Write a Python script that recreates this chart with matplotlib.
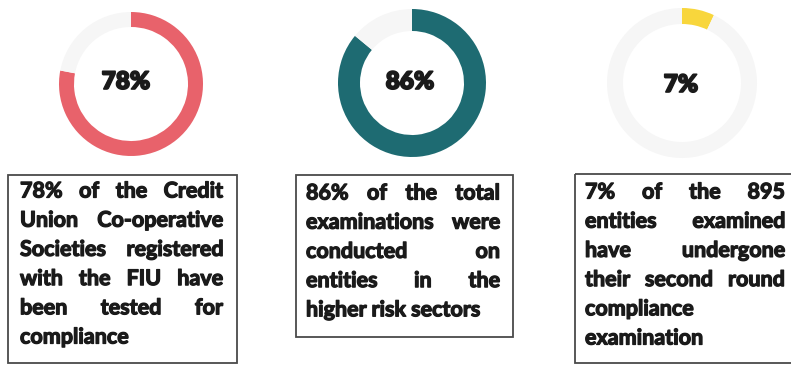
import matplotlib.pyplot as plt
import matplotlib.patheffects as pe
from matplotlib.patches import Rectangle

# shares shown in the three rings
percentages = [78, 86, 7]
ring_colors = ['#E8626B', '#1E6B72', '#F8D63C']
track_color = '#F6F6F6'

# caption text, one entry per printed line
captions = [
    ["78% of the Credit", "Union Co-operative", "Societies registered",
     "with the FIU have", "been tested for", "compliance"],
    ["86% of the total", "examinations were", "conducted on",
     "entities in the", "higher risk sectors"],
    ["7% of the 895", "entities examined", "have undergone",
     "their second round", "compliance", "examination"],
]

W, H = 791, 366
fig = plt.figure(figsize=(W / 100, H / 100), dpi=100)

# full-figure axes in pixel units for the caption boxes
canvas = fig.add_axes([0, 0, 1, 1])
canvas.set_xlim(0, W)
canvas.set_ylim(H, 0)
canvas.axis('off')

ink = '#1A1A1A'
thick = [pe.withStroke(linewidth=0.9, foreground=ink)]

# ring geometry: centre x, centre y, outer radius, ring width (px)
rings = [(131, 84, 72, 15), (412, 83, 74, 22), (682, 83, 75, 16)]
label_pos = [(126, 82), (410, 82), (681, 85)]

for pct, color, (cx, cy, r, w), (lx, ly) in zip(percentages, ring_colors, rings, label_pos):
    ax = fig.add_axes([(cx - r) / W, (H - cy - r) / H, 2 * r / W, 2 * r / H])
    ax.pie([pct, 100 - pct], colors=[color, track_color], startangle=90,
           counterclock=False, radius=1,
           wedgeprops=dict(width=w / r, linewidth=0))
    ax.set_xlim(-1, 1)
    ax.set_ylim(-1, 1)
    ax.axis('off')
    canvas.text(lx, ly, f"{pct}%", ha='center', va='center', fontsize=17.5,
                fontweight='heavy', family='Lato', color=ink, zorder=5,
                path_effects=[pe.withStroke(linewidth=1.2, foreground=ink)])

# caption boxes: x0, y0, x1, y1, text left, text right, first line y
boxes = [
    (8, 175, 237, 363, 20, 223, 191),
    (296, 175, 513, 337, 306, 500, 193),
    (575, 174, 800, 363, 585, 785, 192),
]
line_step = 29.2
font = dict(fontsize=15.5, fontweight='bold', family='Lato', color=ink)

renderer = fig.canvas.get_renderer()


def text_width(s):
    t = canvas.text(0, 0, s, **font)
    w = t.get_window_extent(renderer).width
    t.remove()
    return w


space = text_width("x x") - 2 * text_width("x")

for lines, (x0, y0, x1, y1, tl, tr, ty) in zip(captions, boxes):
    canvas.add_patch(Rectangle((x0, y0), x1 - x0, y1 - y0, fill=False,
                               edgecolor='#4A4A4A', linewidth=1.3))
    for i, line in enumerate(lines):
        y = ty + i * line_step
        words = line.split()
        widths = [text_width(wd) for wd in words]
        last = i == len(lines) - 1
        if last or len(words) == 1:
            gap = space
        else:
            gap = (tr - tl - sum(widths)) / (len(words) - 1)
        x = tl
        for wd, ww in zip(words, widths):
            canvas.text(x, y, wd, ha='left', va='center', path_effects=thick, **font)
            x += ww + gap

fig.savefig('out.png', dpi=100)
